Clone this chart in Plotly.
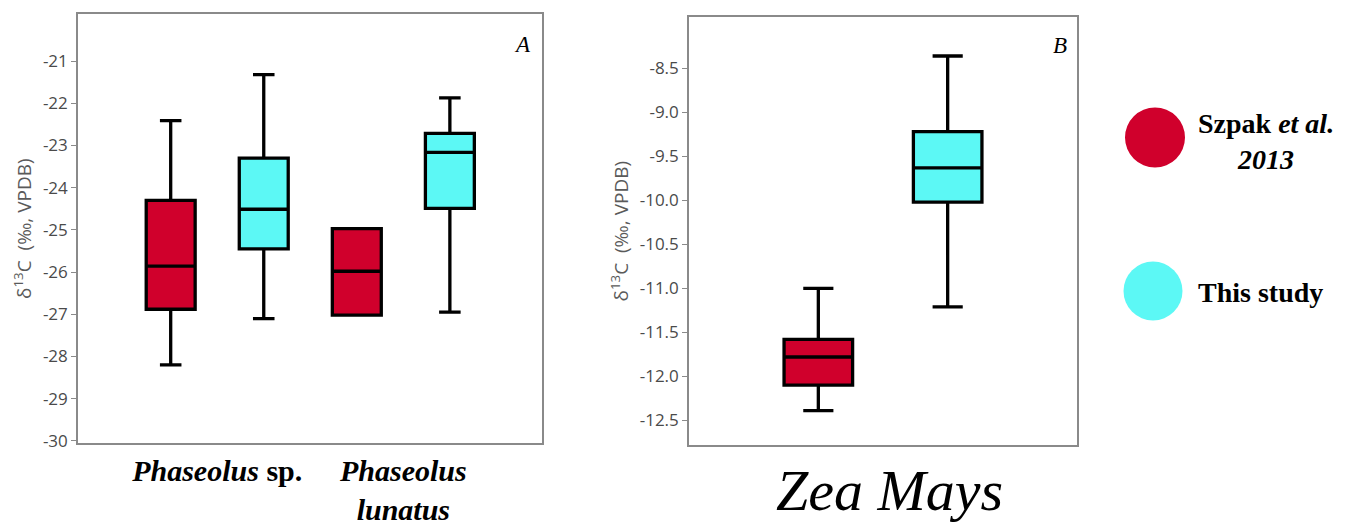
import plotly.graph_objects as go

# ---------------- data ----------------
series_names = ["Szpak <i>et al.</i><br><i>2013</i>", "This study"]
series_colors = ["#D0002C", "#5CF8F5"]

# Panel A: Phaseolus
a_categories = ["<b><i>Phaseolus</i></b> <b>sp.</b>", "<b><i>Phaseolus<br>lunatus</i></b>"]
a_szpak_low = [-28.20, -27.02]
a_szpak_q1 = [-26.88, -27.02]
a_szpak_med = [-25.86, -25.98]
a_szpak_q3 = [-24.30, -24.97]
a_szpak_high = [-22.41, -24.97]

a_this_low = [-27.10, -26.95]
a_this_q1 = [-25.45, -24.49]
a_this_med = [-24.51, -23.16]
a_this_q3 = [-23.30, -22.71]
a_this_high = [-21.32, -21.87]

a_ticks = [-21, -22, -23, -24, -25, -26, -27, -28, -29, -30]

# Panel B: Zea mays
b_categories = ["<i>Zea Mays</i>"]
b_szpak = dict(low=-12.39, q1=-12.10, med=-11.78, q3=-11.58, high=-11.00)
b_this = dict(low=-11.21, q1=-10.02, med=-9.63, q3=-9.22, high=-8.36)
b_ticks = [-8.5, -9.0, -9.5, -10.0, -10.5, -11.0, -11.5, -12.0, -12.5]

# ---------------- figure ----------------
W, H = 1367, 527
fig = go.Figure()

LW = 3.3
A_OFF = [-0.25, 0.25]
A_WIDTH = 0.263
B_OFF = [-0.5, 0.5]
B_WIDTH = 0.53

def add_box(xpos, low, q1, med, q3, high, color, xa, ya, width):
    fig.add_trace(go.Box(
        x=xpos, lowerfence=low, q1=q1, median=med, q3=q3, upperfence=high,
        fillcolor=color, line=dict(color="black", width=LW),
        whiskerwidth=0.44, width=width, boxpoints=False,
        showlegend=False, hoverinfo="skip", xaxis=xa, yaxis=ya,
    ))

# Panel A
for i in range(len(a_categories)):
    add_box([i + A_OFF[0]], [a_szpak_low[i]], [a_szpak_q1[i]], [a_szpak_med[i]],
            [a_szpak_q3[i]], [a_szpak_high[i]], series_colors[0], "x", "y", A_WIDTH)
    add_box([i + A_OFF[1]], [a_this_low[i]], [a_this_q1[i]], [a_this_med[i]],
            [a_this_q3[i]], [a_this_high[i]], series_colors[1], "x", "y", A_WIDTH)

# Panel B
for s, col, off in [(b_szpak, series_colors[0], B_OFF[0]), (b_this, series_colors[1], B_OFF[1])]:
    add_box([off], [s["low"]], [s["q1"]], [s["med"]], [s["q3"]], [s["high"]], col, "x2", "y2", B_WIDTH)

axis_line = dict(showline=True, linecolor="#8a8a8a", linewidth=1.6, mirror=True,
                 showgrid=False, zeroline=False)
tickfont_y = dict(family="Open Sans, sans-serif", size=17, color="#4a4a4a")
ytitle = dict(text="δ<sup>13</sup>C  (‰, VPDB)",
              font=dict(family="Open Sans, sans-serif", size=19, color="#5a5a5a"))

fig.update_layout(
    width=W, height=H,
    margin=dict(l=0, r=0, t=0, b=0),
    paper_bgcolor="white", plot_bgcolor="white",
    showlegend=False,
    xaxis=dict(domain=[78 / W, 542 / W], range=[-0.748, 1.745],
               tickvals=[0, 1], ticktext=a_categories, ticks="",
               tickfont=dict(family="Liberation Serif, serif", size=30, color="black"),
               automargin=False, **axis_line),
    yaxis=dict(domain=[(H - 443) / H, (H - 14.3) / H], range=[-30.05, -19.89],
               tickvals=a_ticks, ticktext=[str(t) for t in a_ticks],
               ticks="outside", ticklen=5, tickcolor="#8a8a8a", tickwidth=1.2,
               tickfont=tickfont_y, title=dict(standoff=6, **ytitle),
               automargin=False, **axis_line),
    xaxis2=dict(domain=[689 / W, 1077 / W], range=[-1.5, 1.5], anchor="y2",
                showticklabels=False, ticks="",
                automargin=False, **axis_line),
    yaxis2=dict(domain=[(H - 445) / H, (H - 17.3) / H], range=[-12.78, -7.92], anchor="x2",
                tickvals=b_ticks, ticktext=[f"{t:.1f}" for t in b_ticks],
                ticks="outside", ticklen=5, tickcolor="#8a8a8a", tickwidth=1.2,
                tickfont=tickfont_y, title=dict(standoff=6, **ytitle),
                automargin=False, **axis_line),
)

# category label for panel B, placed at the category position on x2
fig.add_annotation(x=0, y=(H - 490) / H, xref="x2", yref="paper", text=b_categories[0],
                   showarrow=False, xanchor="center", yanchor="middle", xshift=7,
                   font=dict(family="Liberation Serif, serif", size=58, color="black"))

# panel letters
fig.add_annotation(x=1, y=1, xref="x domain", yref="y domain", text="<i>A</i>",
                   showarrow=False, xanchor="right", yanchor="top", xshift=-9, yshift=-16,
                   font=dict(family="Liberation Serif, serif", size=23, color="black"))
fig.add_annotation(x=1, y=1, xref="x2 domain", yref="y2 domain", text="<i>B</i>",
                   showarrow=False, xanchor="right", yanchor="top", xshift=-8, yshift=-14,
                   font=dict(family="Liberation Serif, serif", size=23, color="black"))

# legend drawn as circles + text
legend_circles = [(1155, 137.5, 30), (1153, 291, 29.5)]
legend_text_y = [141, 292]
for name, col, (cx, cy, r), ty in zip(series_names, series_colors, legend_circles, legend_text_y):
    fig.add_shape(type="circle", xref="paper", yref="paper",
                  x0=(cx - r) / W, x1=(cx + r) / W,
                  y0=(H - cy - r) / H, y1=(H - cy + r) / H,
                  fillcolor=col, line=dict(width=0))
    fig.add_annotation(x=1196 / W, y=(H - ty) / H, xref="paper", yref="paper",
                       text=f"<b>{name}</b>", showarrow=False, xanchor="left", yanchor="middle",
                       align="center",
                       font=dict(family="Liberation Serif, serif", size=28, color="black"))

fig.write_html("out.html")
